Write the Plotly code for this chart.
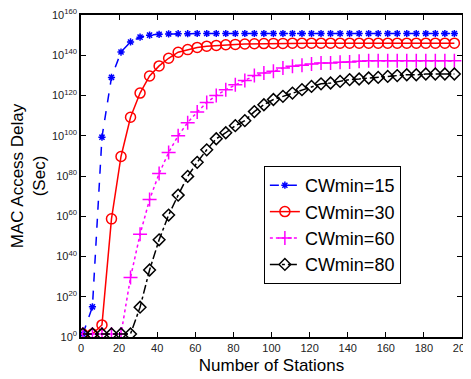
import plotly.graph_objects as go

stations = list(range(1, 200, 5))

# log10 of MAC access delay (Sec)
cw15_exp = [1.5, 15, 99.3, 129, 141.6, 146.6, 149, 150, 150.4, 150.6,
            150.7, 150.7, 150.8, 150.8, 150.8, 150.8, 150.8, 150.8, 150.8, 150.8,
            150.8, 150.8, 150.8, 150.8, 150.8, 150.8, 150.8, 150.8, 150.8, 150.8,
            150.8, 150.8, 150.8, 150.8, 150.8, 150.8, 150.8, 150.8, 150.8, 150.8]
cw30_exp = [1.5, 1.5, 6, 58.7, 89.7, 109.2, 121.2, 129.7, 134.7, 138.5,
            141.5, 142.8, 143.9, 144.5, 144.9, 145.2, 145.4, 145.6, 145.7, 145.8,
            145.9, 145.9, 146, 146, 146, 146, 146, 146, 146, 146,
            146, 146, 146, 146, 146, 146, 146, 146, 146, 146]
cw60_exp = [1.5, 1.5, 1.5, 1.5, 1.5, 29.6, 51, 68.3, 81.2, 91.7,
            100, 106.5, 111.8, 116.5, 120, 122.9, 125.4, 127.5, 129.9, 131.2,
            132, 133.7, 134.5, 135, 135.7, 136.2, 136.2, 136.5, 136.7, 137,
            137.3, 137.3, 137.3, 137.3, 137.3, 137.3, 137.3, 137.3, 137.3, 137.3]
cw80_exp = [1.5, 1.5, 1.5, 1.5, 1.5, 1.5, 14.8, 33.3, 48.3, 60.6,
            70.5, 79.8, 86.8, 93, 98.5, 101.5, 105, 107.5, 112, 115.4,
            118, 119.6, 121.2, 122.9, 124.5, 125.8, 126.2, 127, 127.9, 128.2,
            128.7, 129, 129.5, 129.9, 130.3, 130.3, 130.7, 130.7, 130.7, 130.7]

ytick_exps = list(range(0, 161, 20))
xtick_vals = list(range(0, 201, 20))

fig = go.Figure()

def add(name, exps, color, dash, symbol, size, width):
    fig.add_trace(go.Scatter(
        x=stations, y=[10.0 ** e for e in exps], name=name, mode="lines+markers",
        line=dict(color=color, dash=dash, width=width),
        marker=dict(symbol=symbol, size=size, color=color,
                    line=dict(color=color, width=1.5)),
    ))

add("CWmin=15", cw15_exp, "#0000ff", "dash", "asterisk-open", 6, 1.5)
add("CWmin=30", cw30_exp, "#ff0000", "solid", "circle-open", 10, 1.5)
add("CWmin=60", cw60_exp, "#ff00ff", "dot", "cross-thin-open", 10, 1.5)
add("CWmin=80", cw80_exp, "#000000", "dashdot", "diamond-open", 9, 1.5)

axis_common = dict(
    showline=True, linecolor="black", linewidth=1.5, mirror="ticks",
    ticks="inside", ticklen=5, tickcolor="black", showgrid=False, zeroline=False,
    automargin=False, ticklabeloverflow="allow",
    tickfont=dict(family="Liberation Sans, Arial", size=11, color="#222"),
)

fig.update_xaxes(range=[0, 200], tickvals=xtick_vals,
                 title=dict(text="Number of Stations", standoff=6,
                            font=dict(family="Liberation Sans, Arial", size=17, color="black")),
                 **axis_common)
fig.update_yaxes(type="log", range=[0, 160],
                 tickvals=[10.0 ** e for e in ytick_exps],
                 ticktext=["10<sup>%d</sup>" % e for e in ytick_exps],
                 title=dict(text="MAC Access Delay<br>(Sec)", standoff=8,
                            font=dict(family="Liberation Sans, Arial", size=17, color="black")),
                 **axis_common)

# the page body adds an 8px offset; sizes compensate so the plot area sits at 81..462 x 15..337
fig.update_layout(
    width=463, height=371,
    margin=dict(l=73, r=9, t=7, b=42),
    paper_bgcolor="white", plot_bgcolor="white",
    showlegend=True,
    legend=dict(x=0.48, y=0.531, xanchor="left", yanchor="top",
                bgcolor="white", bordercolor="black", borderwidth=1,
                font=dict(family="Liberation Sans, Arial", size=18, color="black"),
                tracegroupgap=0),
)

fig.write_html("out.html")
